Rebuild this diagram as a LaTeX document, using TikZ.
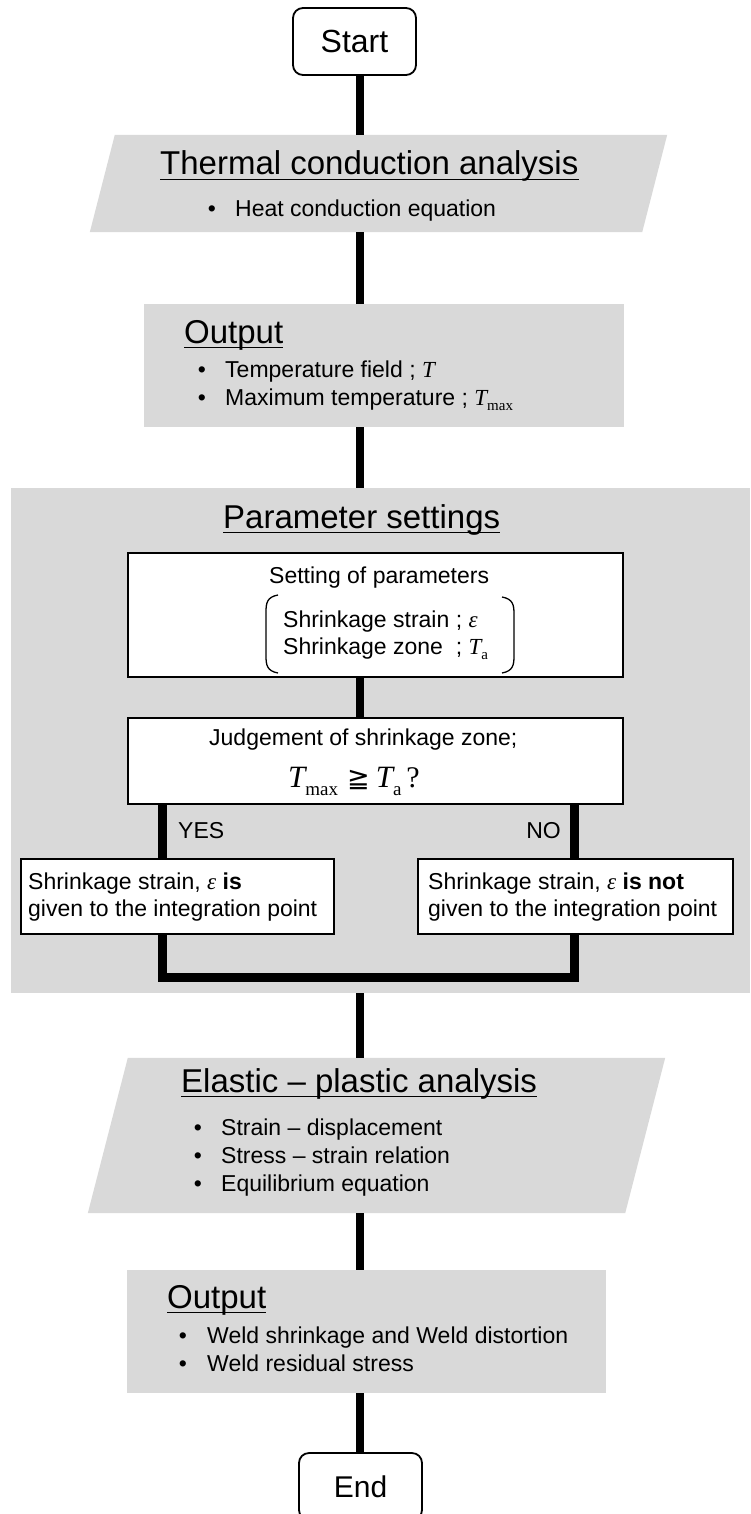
\documentclass[tikz,border=0pt]{standalone}
\usepackage{fontspec}
\setmainfont{Liberation Sans}
\newfontfamily\tm{Liberation Serif}
\newfontfamily\dejavu{DejaVu Sans}
\definecolor{boxgray}{HTML}{D9D9D9}
\newcommand\bodyf{\fontsize{23}{27}\selectfont}
\newcommand\titlef{\fontsize{33}{38}\selectfont}
\newcommand\Tit{{\tm\itshape T}}
\newcommand\mysub[1]{\raisebox{-0.22em}{\tm\fontsize{15}{15}\selectfont #1}}
\tikzset{
  spine/.style={line width=8pt},
  branch/.style={line width=9pt, line join=miter},
  term/.style={draw, line width=1.8pt, rounded corners=10pt, fill=white, inner sep=0},
  graybox/.style={fill=boxgray, draw=none, inner sep=0},
  whitebox/.style={draw, line width=1.5pt, fill=white, inner sep=0},
  txt/.style={anchor=base west, inner sep=0, font=\bodyf},
  ttl/.style={anchor=base west, inner sep=0, font=\titlef},
  bul/.style={anchor=base, inner sep=0, font=\bodyf},
  uline/.style={line width=1.6pt},
}
\begin{document}
\begin{tikzpicture}[x=1pt,y=-1pt]
\useasboundingbox (0,0) rectangle (750,1514);
\coordinate (sp) at (360,0);
\coordinate (yx) at (162,0);
\coordinate (nx) at (574,0);

% ---------- Start ----------
\node[term, minimum width=123pt, minimum height=67pt, font=\fontsize{32}{36}\selectfont] (start) at (354.5,41.5) {Start};

% ---------- Thermal conduction analysis ----------
\node[inner sep=0, minimum width=552pt, minimum height=97pt] (thermal) at (378.5,183.5) {};
\fill[boxgray] ([xshift=12.5pt]thermal.north west) -- ([xshift=12.5pt]thermal.north east)
  -- ([xshift=-12.5pt]thermal.south east) -- ([xshift=-12.5pt]thermal.south west) -- cycle;
\node[ttl] (thT) at (160,175) {Thermal conduction analysis};
\draw[uline] ([yshift=-4.5pt]thT.base west) -- ([yshift=-4.5pt]thT.base east);
\node[bul] (thb1) at (212,217) {•};
\node[txt] (tht1) at (235,217) {Heat conduction equation};

% ---------- Output 1 ----------
\node[graybox, minimum width=480pt, minimum height=123pt] (out1) at (384,365.5) {};
\node[ttl] (o1T) at (184,343) {Output};
\draw[uline] ([yshift=-4.5pt]o1T.base west) -- ([yshift=-4.5pt]o1T.base east);
\node[bul] (o1b1) at (202,377) {•};
\node[txt] (o1t1) at (225,377) {Temperature field ; \Tit};
\node[bul] (o1b2) at (202,405) {•};
\node[txt] (o1t2) at (225,405) {Maximum temperature ; \Tit\mysub{max}};

% ---------- Parameter settings ----------
\node[graybox, minimum width=739pt, minimum height=505pt] (param) at (380.5,740.5) {};
\node[ttl] (paT) at (223,528) {Parameter settings};
\draw[uline] ([yshift=-4.5pt]paT.base west) -- ([yshift=-4.5pt]paT.base east);

\node[whitebox, minimum width=495pt, minimum height=124pt] (setting) at (375.5,615) {};
\node[txt] (set0) at (269,583) {Setting of parameters};
\node[txt] (set1) at (283,627) {Shrinkage strain ; {\tm\itshape ε}};
\node[txt] (set2) at (283,654) {Shrinkage zone\ \ ; \Tit\mysub{a}};
\draw[line width=1.3pt] (278,595) .. controls (267,597) and (266,603) .. (266,612) -- (266,656)
  .. controls (266,665) and (267,671) .. (278,673);
\draw[line width=1.3pt] (502,597) .. controls (513,599) and (514,605) .. (514,614) -- (514,656)
  .. controls (514,665) and (513,671) .. (502,673);

\node[whitebox, minimum width=495pt, minimum height=86pt] (judge) at (375.5,761) {};
\node[txt] (ju0) at (209,745) {Judgement of shrinkage zone;};
\node[anchor=base west, inner sep=0] (ju1) at (288,787) {{\tm\fontsize{31}{31}\selectfont\itshape T}\raisebox{-8pt}{\tm\fontsize{19}{19}\selectfont max}\hspace{9pt}{\dejavu\fontsize{27}{27}\selectfont ≧}\hspace{6pt}{\tm\fontsize{31}{31}\selectfont\itshape T}\raisebox{-8pt}{\tm\fontsize{19}{19}\selectfont a}\hspace{5pt}{\tm\fontsize{30}{30}\selectfont ?}};

\draw[spine] (setting.south -| sp) -- (judge.north -| sp);

\node[whitebox, minimum width=313pt, minimum height=75pt] (leftbox) at (177.5,896.5) {};
\node[txt] (lb1) at (28,889) {Shrinkage strain, {\tm\itshape ε} \textbf{is}};
\node[txt] (lb2) at (28,916) {given to the integration point};
\node[whitebox, minimum width=315pt, minimum height=75pt] (rightbox) at (575.5,896.5) {};
\node[txt] (rb1) at (428,889) {Shrinkage strain, {\tm\itshape ε} \textbf{is not}};
\node[txt] (rb2) at (428,916) {given to the integration point};

\draw[branch] (judge.south -| yx) -- (leftbox.north -| yx);
\draw[branch] (judge.south -| nx) -- (rightbox.north -| nx);
\node[txt] (yes) at (178,838) {YES};
\node[txt, anchor=base east] (no) at (561,838) {NO};
\coordinate (barmid) at (360,977);
\draw[branch] (leftbox.south -| yx) |- (barmid) -| (rightbox.south -| nx);

% ---------- Elastic-plastic analysis ----------
\node[inner sep=0, minimum width=537pt, minimum height=155pt] (elastic) at (376.5,1135.5) {};
\fill[boxgray] ([xshift=20pt]elastic.north west) -- ([xshift=20pt]elastic.north east)
  -- ([xshift=-20pt]elastic.south east) -- ([xshift=-20pt]elastic.south west) -- cycle;
\node[ttl] (elT) at (181,1092) {Elastic – plastic analysis};
\draw[uline] ([yshift=-4.5pt]elT.base west) -- ([yshift=-4.5pt]elT.base east);
\node[bul] (elb1) at (198,1135) {•};
\node[txt] (elt1) at (221,1135) {Strain – displacement};
\node[bul] (elb2) at (198,1163) {•};
\node[txt] (elt2) at (221,1163) {Stress – strain relation};
\node[bul] (elb3) at (198,1191) {•};
\node[txt] (elt3) at (221,1191) {Equilibrium equation};

% ---------- Output 2 ----------
\node[graybox, minimum width=479pt, minimum height=123pt] (out2) at (366.5,1331.5) {};
\node[ttl] (o2T) at (167,1308) {Output};
\draw[uline] ([yshift=-4.5pt]o2T.base west) -- ([yshift=-4.5pt]o2T.base east);
\node[bul] (o2b1) at (183,1343) {•};
\node[txt] (o2t1) at (207,1343) {Weld shrinkage and Weld distortion};
\node[bul] (o2b2) at (183,1371) {•};
\node[txt] (o2t2) at (207,1371) {Weld residual stress};

% ---------- End ----------
\node[term, minimum width=123pt, minimum height=67pt, font=\fontsize{30}{34}\selectfont] (end) at (360.5,1486.5) {End};

% ---------- spine connectors ----------
\draw[spine] (start.south -| sp) -- (thermal.north -| sp);
\draw[spine] (thermal.south -| sp) -- (out1.north -| sp);
\draw[spine] (out1.south -| sp) -- (param.north -| sp);
\draw[spine] (param.south -| sp) -- (elastic.north -| sp);
\draw[spine] (elastic.south -| sp) -- (out2.north -| sp);
\draw[spine] (out2.south -| sp) -- (end.north -| sp);
\end{tikzpicture}
\end{document}
